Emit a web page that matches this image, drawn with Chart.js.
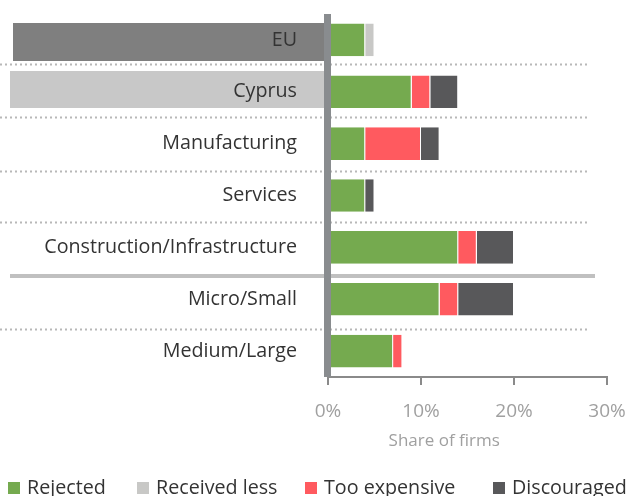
<!DOCTYPE html>
<html>
<head>
<meta charset="utf-8">
<script src="https://cdn.jsdelivr.net/npm/chart.js@4"></script>
<style>
  html, body { margin: 0; padding: 0; overflow: hidden; background: #fff; }
  #wrap { width: 628px; height: 496px; }
</style>
</head>
<body>
<div id="wrap"><canvas id="chart"></canvas></div>
<script>
// categories, top to bottom
const categories = ["EU", "Cyprus", "Manufacturing", "Services", "Construction/Infrastructure", "Micro/Small", "Medium/Large"];

// share of firms, %
const rejected      = [4, 9, 4, 4, 14, 12, 7];
const receivedLess  = [1, 0, 0, 0, 0, 0, 0];
const tooExpensive  = [0, 2, 6, 0, 2, 2, 1];
const discouraged   = [0, 3, 2, 1, 4, 6, 0];

const xTicks = [0, 10, 20, 30];
const xTitle = "Share of firms";

const colors = ["#75aa4f", "#c8c8c6", "#ff5a5f", "#58585a"];

// label backgrounds for the two highlighted rows: [colour, left, offset top, offset bottom]
const labelBg = { "EU": ["#7f7f7f", 13, -17, 21], "Cyprus": ["#c8c8c8", 10, -21, 16] };
// small nudges of the row separators from the category boundaries
const sepNudge = [-2, -1, 1, 1, 3, 4];
// legend item start positions
const legendX = [8, 137, 305, 493];

const FONT = "Open Sans";

const decor = {
  id: "decor",
  beforeDraw(chart) {
    const ctx = chart.ctx;
    const y = chart.scales.y;
    const x = chart.scales.x;
    const step = y.getPixelForValue(1) - y.getPixelForValue(0);
    ctx.save();
    // label backgrounds
    categories.forEach((c, i) => {
      const bg = labelBg[c];
      if (!bg) return;
      const cy = y.getPixelForValue(i);
      ctx.fillStyle = bg[0];
      ctx.fillRect(bg[1], Math.round(cy + bg[2]), x.left - 3 - bg[1], bg[3] - bg[2]);
    });
    // separators (solid one between sectors and firm sizes)
    for (let i = 0; i < categories.length - 1; i++) {
      const by = Math.round(y.getPixelForValue(i) + step / 2 + sepNudge[i]);
      if (i === 4) {
        ctx.strokeStyle = "#c0c0c0";
        ctx.lineWidth = 4;
        ctx.setLineDash([]);
        ctx.beginPath();
        ctx.moveTo(10, by);
        ctx.lineTo(595, by);
        ctx.stroke();
      } else {
        ctx.strokeStyle = "#b8b8b8";
        ctx.lineWidth = 2;
        ctx.setLineDash([2, 3]);
        ctx.beginPath();
        ctx.moveTo(0, by + 0.5);
        ctx.lineTo(590, by + 0.5);
        ctx.stroke();
      }
    }
    ctx.restore();
  },
  afterDatasetsDraw(chart) {
    // thick zero line
    const ctx = chart.ctx;
    const x = chart.scales.x;
    ctx.save();
    ctx.fillStyle = "#898c8f";
    ctx.fillRect(x.getPixelForValue(0) - 4, chart.chartArea.top, 7, chart.chartArea.bottom - chart.chartArea.top);
    ctx.restore();
  },
  afterDraw(chart) {
    const ctx = chart.ctx;
    const x = chart.scales.x;
    ctx.save();
    // axis title
    ctx.font = "17px '" + FONT + "'";
    ctx.textBaseline = "middle";
    ctx.textAlign = "center";
    ctx.fillStyle = "#a0a0a0";
    ctx.fillText(xTitle, x.getPixelForValue(12.5), 441);
    // legend in one row along the bottom edge
    ctx.font = "19.7px '" + FONT + "'";
    ctx.textAlign = "left";
    chart.data.datasets.forEach((d, i) => {
      const lx = legendX[i];
      ctx.fillStyle = d.backgroundColor;
      ctx.fillRect(lx, 482, 12, 12);
      ctx.fillStyle = "#333333";
      ctx.fillText(d.label, lx + 19, 488);
    });
    ctx.restore();
  }
};

function ds(label, data, color) {
  return {
    label: label,
    data: data,
    backgroundColor: color,
    borderColor: "#ffffff",
    borderWidth: { top: 0, bottom: 0, left: 0, right: 1 },
    borderSkipped: false,
    categoryPercentage: 1.0,
    barPercentage: 0.63
  };
}

new Chart(document.getElementById("chart"), {
  type: "bar",
  data: {
    labels: categories,
    datasets: [
      ds("Rejected", rejected, colors[0]),
      ds("Received less", receivedLess, colors[1]),
      ds("Too expensive", tooExpensive, colors[2]),
      ds("Discouraged", discouraged, colors[3])
    ]
  },
  options: {
    indexAxis: "y",
    responsive: true,
    maintainAspectRatio: false,
    animation: false,
    layout: { padding: { top: 14, right: 21, left: 0, bottom: 41 } },
    scales: {
      x: {
        stacked: true,
        min: 0,
        max: 30,
        afterBuildTicks(axis) { axis.ticks = xTicks.map(v => ({ value: v })); },
        afterFit(scale) { scale.height = 78; scale.paddingLeft = 0; scale.paddingRight = 0; },
        grid: { display: true, drawOnChartArea: false, drawTicks: true, tickLength: 8, color: "#8a8a8a", lineWidth: 2 },
        border: { display: true, color: "#8a8a8a", width: 2 },
        ticks: {
          padding: 15,
          maxRotation: 0,
          color: "#a0a0a0",
          font: { family: FONT, size: 19 },
          callback: v => v + "%"
        }
      },
      y: {
        stacked: true,
        afterFit(scale) { scale.width = 328; scale.paddingTop = 0; scale.paddingBottom = 0; },
        grid: { display: false },
        border: { display: false },
        ticks: {
          padding: 23,
          color: "#333333",
          font: { family: FONT, size: 19.7 }
        }
      }
    },
    plugins: {
      legend: { display: false },
      tooltip: { enabled: false }
    }
  },
  plugins: [decor]
});
</script>
</body>
</html>
